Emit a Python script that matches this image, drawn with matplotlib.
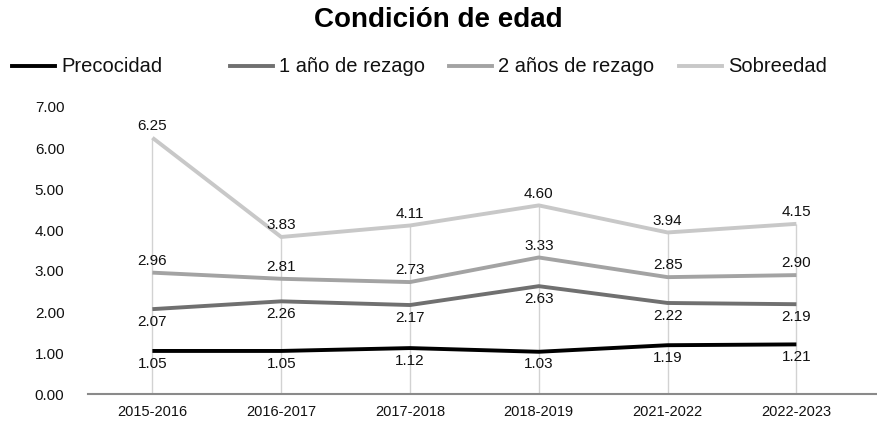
import matplotlib
matplotlib.use("Agg")
import matplotlib.pyplot as plt
from matplotlib.lines import Line2D

plt.rcParams['font.family'] = ['Liberation Sans', 'DejaVu Sans']

categories = ["2015-2016", "2016-2017", "2017-2018", "2018-2019", "2021-2022", "2022-2023"]
precocidad = [1.05, 1.05, 1.12, 1.03, 1.19, 1.21]
rezago1 = [2.07, 2.26, 2.17, 2.63, 2.22, 2.19]
rezago2 = [2.96, 2.81, 2.73, 3.33, 2.85, 2.90]
sobreedad = [6.25, 3.83, 4.11, 4.60, 3.94, 4.15]
series_names = ["Precocidad", "1 año de rezago", "2 años de rezago", "Sobreedad"]
yticks = [0, 1, 2, 3, 4, 5, 6, 7]

colors = ["#000000", "#707070", "#a3a3a3", "#c8c8c8"]
series = [precocidad, rezago1, rezago2, sobreedad]
label_pos = ["below", "below", "above", "above"]

W, H = 877, 423
fig = plt.figure(figsize=(W / 100, H / 100), dpi=100)
ax = fig.add_axes([88 / W, 1 - 394 / H, (877 - 88) / W, (394 - 107) / H])

x = list(range(len(categories)))
maxes = [max(v) for v in zip(*series)]
ax.vlines(x, 0, maxes, color="#d2d2d2", lw=1, zorder=1)

for vals, c, pos in zip(series, colors, label_pos):
    ax.plot(x, vals, color=c, lw=2.8, zorder=3, solid_capstyle='butt')
    for xi, v in zip(x, vals):
        if pos == "above":
            ax.annotate(f"{v:.2f}", (xi, v), xytext=(0, 3.5), textcoords="offset points",
                        ha="center", va="bottom", fontsize=11, color="#111111", zorder=4)
        else:
            ax.annotate(f"{v:.2f}", (xi, v), xytext=(0, -4), textcoords="offset points",
                        ha="center", va="top", fontsize=11, color="#111111", zorder=4)

ax.set_xlim(-0.5, 5.626)
ax.set_ylim(0, 7)
ax.set_yticks(yticks)
ax.set_yticklabels([f"{t:.2f}" for t in yticks], fontsize=11, color="#111111")
ax.set_xticks(x)
ax.set_xticklabels(categories, fontsize=10.5, color="#111111")
ax.tick_params(axis='both', length=0)
ax.tick_params(axis='y', pad=17)
ax.tick_params(axis='x', pad=8)
for s in ["top", "right", "left"]:
    ax.spines[s].set_visible(False)
ax.spines["bottom"].set_color("#8a8a8a")
ax.spines["bottom"].set_linewidth(1.5)

fig.text(0.5, 1 - 20 / H, "Condición de edad", ha="center", va="center", fontsize=20, fontweight="bold")

# legend, laid out as fixed-width entries
leg_y = 1 - 66 / H
leg_starts = [12, 230, 449, 679]
for name, c, xs in zip(series_names, colors, leg_starts):
    fig.add_artist(Line2D([xs / W, (xs + 43) / W], [leg_y, leg_y], color=c, lw=2.8,
                          transform=fig.transFigure))
    fig.text((xs + 49) / W, leg_y, name, ha="left", va="center", fontsize=14.5, color="#111111")

fig.savefig("out.png", dpi=100)
